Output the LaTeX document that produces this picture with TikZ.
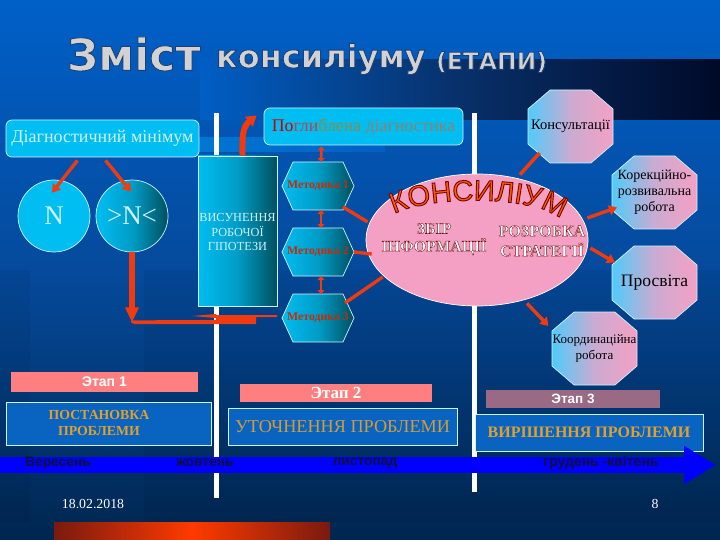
\documentclass[tikz,border=0pt]{standalone}
\usepackage{fontspec}
\setmainfont{Liberation Serif}
\setsansfont{Liberation Sans}
\usetikzlibrary{calc,arrows.meta,shapes.geometric,decorations.text}
\definecolor{bgtop}{HTML}{0060C8}
\definecolor{bgmid}{HTML}{054A9C}
\definecolor{bgbot}{HTML}{00264F}
\definecolor{redline}{HTML}{F03A10}
\definecolor{cyanbox}{HTML}{00BDF2}
\definecolor{tealdark}{HTML}{00505F}
\definecolor{pinkfill}{HTML}{F4A0C4}
\definecolor{octcyan}{HTML}{50CBFA}
\definecolor{salmon}{HTML}{FF7F80}
\definecolor{mauve}{HTML}{9A6A84}
\definecolor{stagebox}{HTML}{0864C0}
\definecolor{gold}{HTML}{E0A030}
\definecolor{lightt}{HTML}{CFF3FF}
\definecolor{titlec}{HTML}{D2D2D2}
\definecolor{darktxt}{HTML}{10103A}
\definecolor{barred}{HTML}{FF3A00}
\definecolor{bardark}{HTML}{7A1A10}
\definecolor{bandmid}{HTML}{08306A}
\definecolor{bandend}{HTML}{000A28}
\newfontfamily\konsfont{Liberation Sans}
\newfontfamily\titlefont{DejaVu Sans}
\newcommand{\outl}[1]{\special{pdf:code 2 Tr 0.35 w 0.45 0.05 0.05 RG}#1\special{pdf:code 0 Tr}}
\newcommand{\outt}[1]{\special{pdf:code 2 Tr 0.9 w 0.12 0.25 0.45 RG}#1\special{pdf:code 0 Tr}}
\newcommand{\sz}[1]{\fontsize{#1}{#1}\selectfont}
\tikzset{
  x=1pt,y=-1pt,
  lbl/.style={inner sep=0pt,outer sep=0pt,align=center},
  cyanround/.style={draw=lightt,line width=.7pt,rounded corners=6pt,fill=cyanbox,inner sep=0pt},
  grad/.style={left color=cyanbox,right color=tealdark,middle color=cyanbox!70!tealdark,shading angle=90},
  stage/.style={draw=lightt,line width=.8pt,fill=stagebox,inner sep=0pt,align=center},
  bar/.style={inner sep=0pt,align=center},
  conn/.style={draw=redline,line width=3.4pt,-{Triangle[length=8pt,width=10pt]}},
  connboth/.style={draw=redline,line width=2.6pt,{Triangle[length=4pt,width=7pt]}-{Triangle[length=4pt,width=7pt]}},
  plain/.style={draw=redline,line width=3.4pt},
  vline/.style={fill=white},
  polyline/.style={draw=lightt,line width=.7pt},
}
% octagon: name, cx, cy, w, h, font size, text
\newcommand{\octa}[7]{%
  \draw[polyline,left color=octcyan,right color=pinkfill,middle color=pinkfill!75!octcyan]
    (#2-#4/2+.26*#4,#3-#5/2) -- (#2+#4/2-.26*#4,#3-#5/2) -- (#2+#4/2,#3-#5/2+.26*#5) -- (#2+#4/2,#3+#5/2-.26*#5)
    -- (#2+#4/2-.26*#4,#3+#5/2) -- (#2-#4/2+.26*#4,#3+#5/2) -- (#2-#4/2,#3+#5/2-.26*#5) -- (#2-#4/2,#3-#5/2+.26*#5) -- cycle;
  \node[lbl,minimum width=#4,minimum height=#5,text=black,font=\sz{#6}] (#1) at (#2,#3) {#7};}
% hexagon: name, cx, cy, text
\newcommand{\hexa}[4]{%
  \draw[polyline,grad] (#2-25,#3-24) -- (#2+25,#3-24) -- (#2+36,#3) -- (#2+25,#3+24) -- (#2-25,#3+24) -- (#2-36,#3) -- cycle;
  \node[lbl,minimum width=72,minimum height=48,text=redline!80!black,font=\bfseries\sz{11.8}] (#1) at (#2,#3) {#4};}
\begin{document}
\begin{tikzpicture}
\useasboundingbox (0,0) rectangle (720,540);
% background
\shade[top color=bgtop,bottom color=bgmid] (0,0) rectangle (720,270);
\shade[top color=bgmid,bottom color=bgbot] (0,270) rectangle (720,540);
\fill[black,opacity=.05] (0,270) rectangle (30,522);
\fill[black,opacity=.05] (144,270) rectangle (720,522);
\shade[left color=bgtop!92!bgmid,right color=bandmid] (200,60) rectangle (460,120);
\shade[left color=bandmid,right color=bandend] (460,60) rectangle (720,120);
\shade[left color=cyanbox!25!bgtop,right color=bgtop!92!bgmid] (195,138) rectangle (385,152);
\shade[left color=bardark,right color=barred] (54,522) rectangle (192,540);
\shade[left color=barred,right color=bardark] (192,522) rectangle (330,540);
% white rules
\fill[vline] (214,113) rectangle (219,498);
\fill[vline] (472,113) rectangle (477,492);
% title
\node[lbl,text=titlec,font=\titlefont\bfseries\sz{44},anchor=west] (t1) at (67,54) {\outt{Зміст}};
\node[lbl,text=titlec,font=\titlefont\bfseries\sz{32},anchor=west] (t2) at (216,59) {\outt{консиліуму}};
\node[lbl,text=titlec,font=\titlefont\bfseries\sz{23.5},anchor=west] (t3) at (436,62) {\outt{(ЕТАПИ)}};
% left group
\node[cyanround,minimum width=193,minimum height=37,text=lightt,font=\sz{18}] (dm) at (102.5,138.5) {Діагностичний мінімум};
\node[cyanround,minimum width=199,minimum height=37,font=\sz{17.8}] (pd) at (363.5,126.5) {\textcolor{red!80!black}{По}\textcolor{red!45!gray}{гли}\textcolor{olive!55!gray}{блена }\textcolor{gray!85!orange}{діагностика}};
\node[circle,draw=lightt,line width=.7pt,fill=cyanbox,minimum size=72,inner sep=0pt,text=lightt,font=\sz{27}] (n) at (54,216) {N};
\node[circle,draw=lightt,line width=.7pt,grad,minimum size=72,inner sep=0pt,text=lightt,font=\sz{27}] (nn) at (132,216) {>N<};
\node[rectangle,draw=lightt,line width=.7pt,grad,minimum width=79,minimum height=150,inner sep=0pt,text=lightt,align=center,font=\sz{12.3}] (vr) at (237.5,231) {};
\node[lbl,text=lightt,font=\sz{12.3}] (vrt) at (237.5,232) {ВИСУНЕННЯ\\[2.5pt]РОБОЧОЇ\\[2.5pt]ГІПОТЕЗИ};
% hexagons
\hexa{m1}{318}{186}{Методика 1}
\hexa{m2}{318}{252}{Методика 2}
\hexa{m3}{318}{318}{Методика 3}
% ellipse
\node[ellipse,draw=white,line width=.7pt,fill=pinkfill,minimum width=222,minimum height=132,inner sep=0pt] (kons) at (477,240) {};
\path[decorate,decoration={text along path,text align={fit to path},
  text={|\konsfont\sz{29}\color{orange!70!red}\special{pdf:code 2 Tr 0.9 w 0.45 0.02 0.02 RG}|КОНСИЛІУМ}}]
  (394,214) .. controls (430,196) and (520,196) .. (553,214);
\node[lbl,text=white,font=\bfseries\sz{15.8}] (zb) at (434,239) {\outl{ЗБІР}\\[2pt]\outl{ІНФОРМАЦІЇ}};
\node[lbl,text=white,font=\bfseries\sz{16}] (ro) at (542,241) {\outl{РОЗРОБКА}\\[4pt]\outl{СТРАТЕГІЇ}};
% octagons
\octa{o1}{570.5}{126.5}{85}{73}{14.5}{Консультації}
\octa{o2}{654.5}{192.5}{85}{73}{14}{Корекційно-\\[2pt]розвивальна\\[2pt]робота}
\octa{o3}{654.5}{282.5}{85}{73}{17.5}{Просвіта}
\octa{o4}{594.5}{348.5}{85}{73}{13}{Координаційна\\[3pt]робота}
% stages
\node[bar,fill=salmon,minimum width=187,minimum height=20,text=white,font=\sffamily\bfseries\sz{14}] (e1) at (104.5,382) {Этап 1};
\node[bar,fill=salmon,minimum width=192,minimum height=18,text=white,font=\bfseries\sz{17}] (e2) at (336,393) {Этап 2};
\node[bar,fill=mauve,minimum width=174,minimum height=18,text=white,font=\sffamily\bfseries\sz{13.5}] (e3) at (573,399) {Этап 3};
\node[stage,minimum width=205,minimum height=43] (s1) at (108.5,423.5) {};
\node[lbl,text=gold,font=\bfseries\sz{13.8}] (s1t) at (99,423) {ПОСТАНОВКА\\[2pt]ПРОБЛЕМИ};
\node[stage,minimum width=229,minimum height=37,text=gold!85!gray,font=\sz{18.2}] (s2) at (342.5,426.5) {УТОЧНЕННЯ ПРОБЛЕМИ};
\node[stage,minimum width=228,minimum height=37,text=gold,font=\bfseries\sz{16}] (s3) at (589,432.5) {ВИРІШЕННЯ ПРОБЛЕМИ};
% timeline arrow
\coordinate (tl0) at (0,465);
\coordinate (tl1) at (716,465);
\draw[draw=blue,line width=16pt,-{Triangle[length=32pt,width=36pt]}] (tl0) -- (tl1);
\node[lbl,text=darktxt,font=\sffamily\bfseries\sz{13.8}] (w1) at (58,463) {Вересень};
\node[lbl,text=darktxt,font=\sffamily\bfseries\sz{13.8}] (w2) at (205,463) {жовтень};
\node[lbl,text=darktxt,font=\sffamily\bfseries\sz{13.8}] (w3) at (365,463) {листопад};
\node[lbl,text=darktxt,font=\sffamily\bfseries\sz{14}] (w4) at (601,463) {грудень -квітень};
\node[lbl,text=white,font=\sz{13.8}] (d1) at (93,504) {18.02.2018};
\node[lbl,text=white,font=\sz{13.8}] (d2) at (655,504) {8};
% connectors
\draw[conn] ($(dm.south)+(-25,3)$) -- ($(n.north)+(-2,13)$);
\draw[conn] ($(dm.south)+(3,3)$) -- ($(nn.north)+(-1,12)$);
\draw[draw=redline,line width=6pt,-{Triangle[length=10pt,width=12pt]}] ($(vr.north)+(5,0)$) .. controls ($(vr.north)+(5,-16)$) and ($(vr.north)+(4,-28)$) .. ($(pd.west)+(-7,-11)$);
\draw[connboth] ($(pd.south)+(-42,1)$) -- ($(m1.north)+(3,0)$);
\draw[connboth] ($(m1.south)+(3,0)$) -- ($(m2.north)+(3,0)$);
\draw[connboth] ($(m2.south)+(3,0)$) -- ($(m3.north)+(3,0)$);
\draw[draw=redline,line width=6pt,-{Triangle[length=15pt,width=13pt]}] (nn.south) -- ($(nn.south)+(0,70)$);
\coordinate (bk) at ($(nn.south)+(-1,70)$);
\path[fill=redline] (bk) -- ++(0,-2) -- ($(m3.west)+(-66,2)$) -- ++(0,-5) -- ++(40,0) -- ($(m3.west)+(-5,-3)$) -- ($(m3.west)+(-5,-1)$) -- ($(m3.west)+(-26,-1)$) -- ++(0,7) -- ++(-122,0) -- cycle;
\path[fill=redline] ($(m3.west)+(-90,-2)$) -- ($(m3.west)+(-66,-4)$) -- ($(m3.west)+(-66,0)$) -- cycle;
\draw[plain] ($(m1.east)+(-11,21)$) -- ($(kons.west)+(2,-18)$);
\draw[plain] (m2.east) -- ($(kons.west)+(6,14)$);
\draw[plain] ($(m3.east)+(-9,-15)$) -- ($(kons.west)+(17,37)$);
\draw[draw=redline,line width=3.6pt] ($(kons.north)+(43,1)$) -- ($(o1.south)+(-31,-10)$);
\draw[conn] ($(kons.east)+(-1,-22)$) -- ($(o2.west)+(5,15)$);
\draw[conn] ($(kons.east)+(2,8)$) -- ($(o3.west)+(3,-20)$);
\draw[conn] ($(kons.south)+(50,-3)$) -- ($(o4.north)+(-46,14)$);
\end{tikzpicture}
\end{document}
